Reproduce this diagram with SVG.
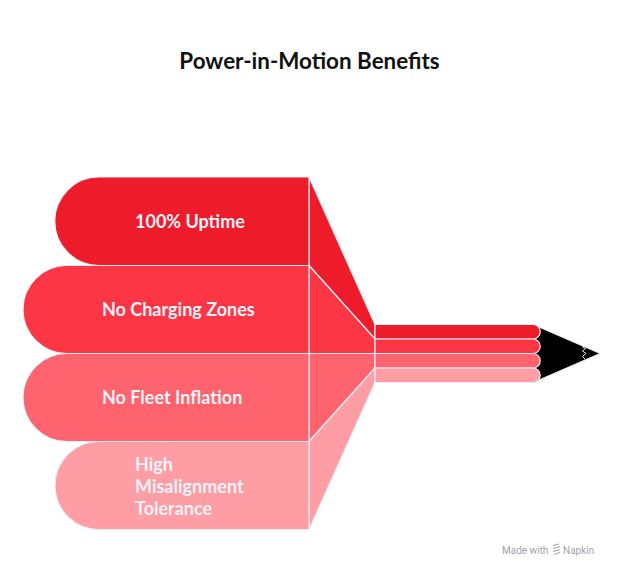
<svg xmlns="http://www.w3.org/2000/svg" width="624" height="575" viewBox="0 0 624 575">
<style>
.s{stroke:#E6EDF5;stroke-width:1.2;stroke-linejoin:round}
.c1{fill:#EE1C2B}.c2{fill:#FD3645}.c3{fill:#FF636E}.c4{fill:#FF9DA4}
.t{font-family:Lato,"Liberation Sans",sans-serif;font-weight:700;font-size:18px;fill:#EEF2F9}
.title{font-family:Lato,"Liberation Sans",sans-serif;font-weight:700;font-size:22.4px;fill:#111111}
.wm{font-family:Roboto,"Liberation Sans",sans-serif;font-size:10px;fill:#A0A4A8}
</style>
<rect width="624" height="575" fill="#FFFFFF"/>
<text class="title" x="309.5" y="68.5" text-anchor="middle">Power-in-Motion Benefits</text>

<g id="pencil-tip">
<polygon points="533,324.5 600,353.5 533,382.5" fill="#000000" stroke="#E6EDF5" stroke-width="1"/>
<polyline points="582,346.5 585.5,348.5 582.5,351 586,353.5 582.5,356.5 585.5,359.5" fill="none" stroke="#E6EDF5" stroke-width="1"/>
</g>

<g id="connectors">
<polygon class="s c1" points="309,177 375,324.5 375,339 309,265.5"/>
<polygon class="s c2" points="309,265.5 375,339 375,353.5 309,353.5"/>
<polygon class="s c3" points="309,353.5 375,353.5 375,368 309,441.5"/>
<polygon class="s c4" points="309,441.5 375,368 375,382.5 309,529.5"/>
<path class="s c1" d="M375,324.5 H533 A7.25,7.25 0 0 1 533,339 H375 Z"/>
<path class="s c2" d="M375,339 H533 A7.25,7.25 0 0 1 533,353.5 H375 Z"/>
<path class="s c3" d="M375,353.5 H533 A7.25,7.25 0 0 1 533,368 H375 Z"/>
<path class="s c4" d="M375,368 H533 A7.25,7.25 0 0 1 533,382.5 H375 Z"/>
</g>

<g id="node-uptime">
<path class="s c1" d="M309,177 H99 A44,44 0 0 0 99,265.5 H309 Z"/>
<text class="t" x="135" y="227.5">100% Uptime</text>
</g>
<g id="node-charging">
<path class="s c2" d="M309,265.5 H67 A44,44 0 0 0 67,353.5 H309 Z"/>
<text class="t" x="102" y="316">No Charging Zones</text>
</g>
<g id="node-fleet">
<path class="s c3" d="M309,353.5 H67 A44,44 0 0 0 67,441.5 H309 Z"/>
<text class="t" x="102" y="404">No Fleet Inflation</text>
</g>
<g id="node-tolerance">
<path class="s c4" d="M309,441.5 H99 A44,44 0 0 0 99,529.5 H309 Z"/>
<text class="t" x="135" y="471">High</text>
<text class="t" x="135" y="493">Misalignment</text>
<text class="t" x="135" y="515">Tolerance</text>
</g>

<g id="watermark">
<text class="wm" x="502" y="553.5">Made with</text>
<path d="M553,545.5 l6,-1.5 M553,548.5 l7,-2 M553,551.5 l7,-2 M554,554.5 l6,-2" stroke="#A0A4A8" stroke-width="1.1" fill="none"/>
<text class="wm" x="563" y="553.5">Napkin</text>
</g>
</svg>
